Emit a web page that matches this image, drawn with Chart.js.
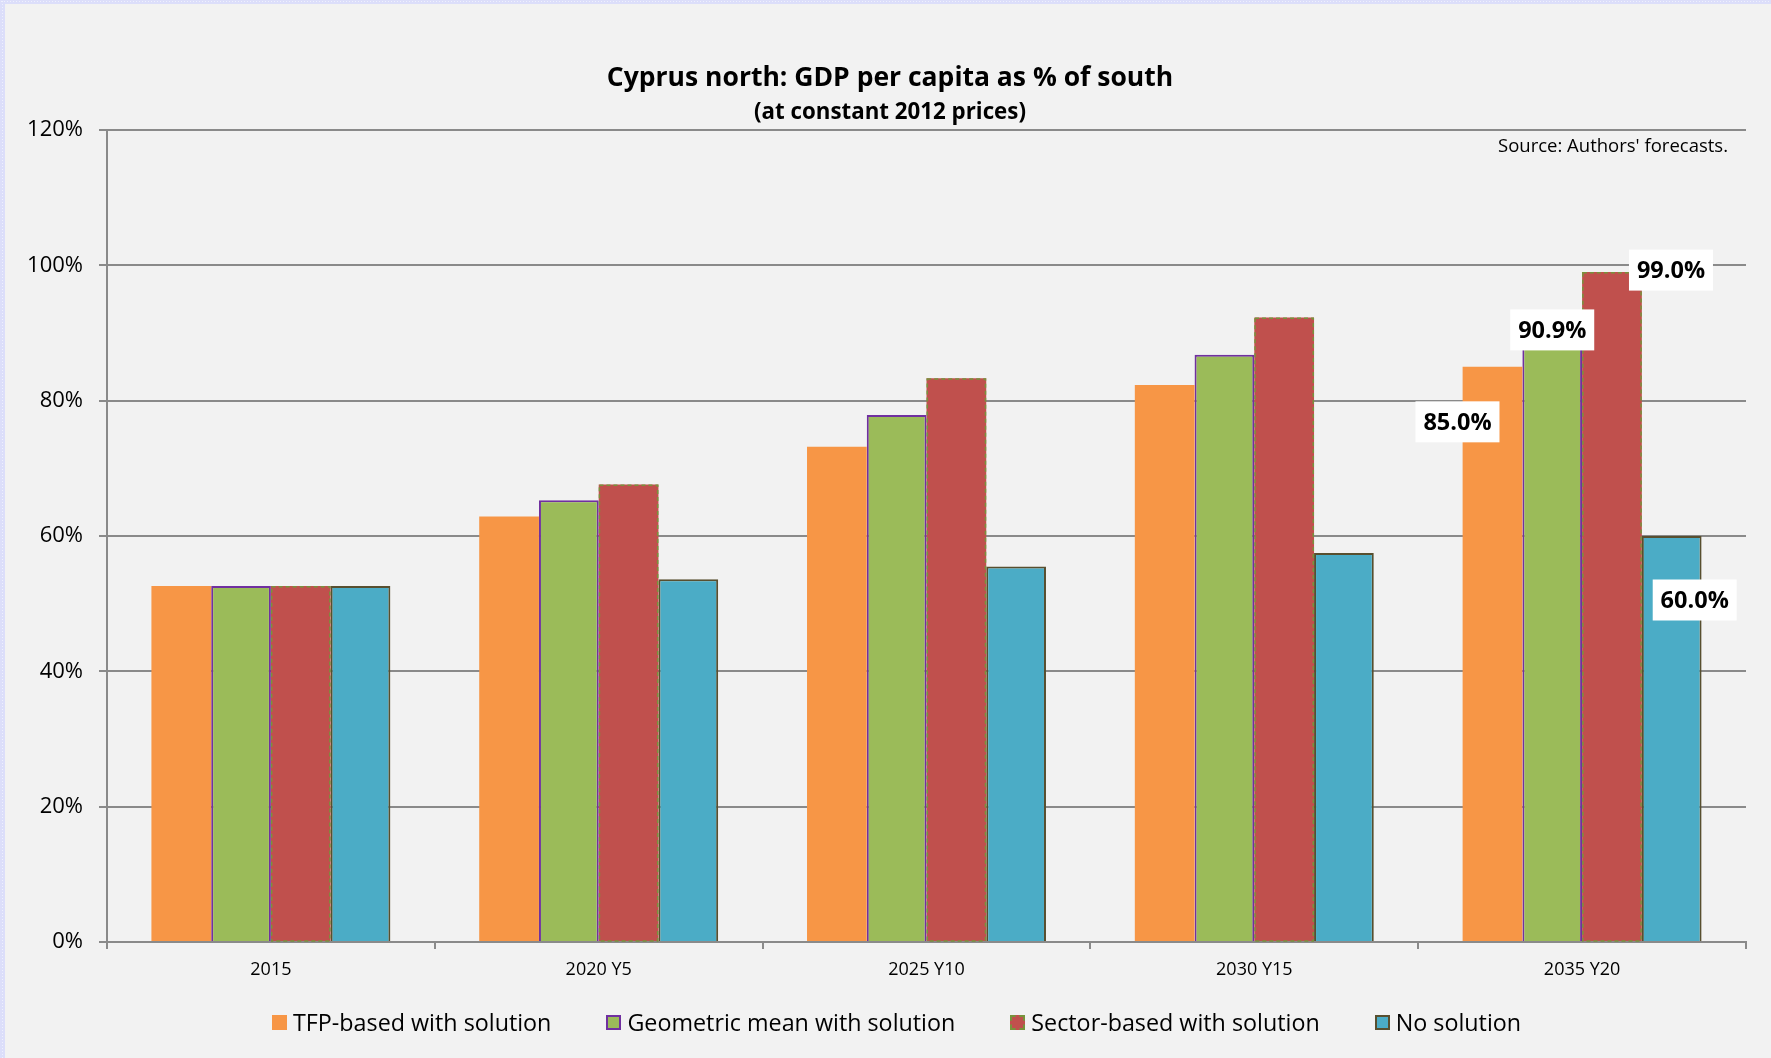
<!DOCTYPE html>
<html>
<head>
<meta charset="utf-8">
<title>Cyprus north: GDP per capita as % of south</title>
<script src="https://cdn.jsdelivr.net/npm/chart.js@4.4.1/dist/chart.umd.min.js"></script>
<style>
  html, body { margin: 0; padding: 0; background: #f2f2f2; }
  #wrap { position: relative; width: 1771px; height: 1058px; overflow: hidden; }
  #gdpChart { position: absolute; left: 0; top: 0; }
  #legend {
    position: absolute; left: 272px; top: 1008px;
    display: flex; align-items: center;
    font-family: 'Open Sans', sans-serif; font-size: 23.3px; line-height: 28px;
    color: #000; white-space: nowrap;
  }
  #legend .item { display: flex; align-items: center; margin-right: 55px; }
  #legend .swatch { width: 15px; height: 15px; box-sizing: border-box; margin-right: 6px; }
</style>
</head>
<body>
<div id="wrap">
  <canvas id="gdpChart" width="1771" height="1058"></canvas>
  <div id="legend"></div>
</div>
<script>
// GDP per capita of the north as % of the south, by scenario
const years = ['2015', '2020 Y5', '2025 Y10', '2030 Y15', '2035 Y20'];
const tfpBased = [52.6, 62.9, 73.2, 82.3, 85.0];
const geometricMean = [52.6, 65.3, 77.9, 86.8, 90.9];
const sectorBased = [52.6, 67.6, 83.3, 92.3, 99.0];
const noSolution = [52.6, 53.6, 55.5, 57.5, 60.0];
const yTicks = [0, 20, 40, 60, 80, 100, 120];

const FONT = "'Open Sans', sans-serif";
const GRID = '#8a8a8a';

// which year gets the value boxes, and where each box sits relative to its bar top
const labelledIndex = 4;
const labelOffsets = [[-35, 55], [0, 3], [59, -2], [23, 64]];

// swatch look for the html legend
const swatchStyles = [
    'background:#f79646;',
    'background:#9bbb59;border:2px solid #7030a0;',
    'background:#c0504d;border:2px dashed #77933c;',
    'background:#4bacc6;border:2px solid #584f2f;'
];

const backdrop = {
    id: 'backdrop',
    beforeDraw(chart) {
        const ctx = chart.ctx;
        ctx.save();
        ctx.fillStyle = '#f2f2f2';
        ctx.fillRect(0, 0, chart.width, chart.height);
        // lavender selection frame along the top and left edges
        ctx.fillStyle = '#dcdefa';
        ctx.fillRect(0, 0, chart.width, 4);
        ctx.fillRect(0, 0, 5, chart.height);
        ctx.fillStyle = '#eef0fd';
        for (let x = 1; x < chart.width; x += 3) ctx.fillRect(x, 1, 1, 1);
        for (let y = 1; y < chart.height; y += 3) ctx.fillRect(2, y, 1, 1);
        ctx.restore();
    }
};

const headings = {
    id: 'headings',
    afterDraw(chart) {
        const ctx = chart.ctx;
        ctx.save();
        ctx.fillStyle = '#000';
        ctx.textAlign = 'center';
        ctx.textBaseline = 'middle';
        ctx.font = `bold 26.5px ${FONT}`;
        ctx.fillText('Cyprus north: GDP per capita as % of south', 890, 78);
        ctx.font = `bold 22.3px ${FONT}`;
        ctx.fillText('(at constant 2012 prices)', 890, 113);
        ctx.textAlign = 'right';
        ctx.font = `18.5px ${FONT}`;
        ctx.fillText("Source: Authors' forecasts.", 1728, 147);
        ctx.restore();
    }
};

// bar elements can't dash their border, so stroke it here
const dashedOutline = {
    id: 'dashedOutline',
    afterDatasetsDraw(chart) {
        const ctx = chart.ctx;
        chart.data.datasets.forEach((ds, i) => {
            if (!ds.outlineDash) return;
            chart.getDatasetMeta(i).data.forEach(bar => {
                ctx.save();
                ctx.strokeStyle = ds.outlineColor;
                ctx.lineWidth = 1.5;
                ctx.setLineDash(ds.outlineDash);
                ctx.strokeRect(bar.x - bar.width / 2 + 0.75, bar.y + 0.75, bar.width - 1.5, bar.base - bar.y - 0.75);
                ctx.restore();
            });
        });
    }
};

const valueBoxes = {
    id: 'valueBoxes',
    afterDatasetsDraw(chart) {
        const ctx = chart.ctx;
        ctx.save();
        ctx.font = `bold 23.5px ${FONT}`;
        ctx.textAlign = 'center';
        ctx.textBaseline = 'middle';
        chart.data.datasets.forEach((ds, i) => {
            const bar = chart.getDatasetMeta(i).data[labelledIndex];
            const [dx, dy] = labelOffsets[i];
            const cx = bar.x + dx;
            const cy = bar.y + dy;
            ctx.fillStyle = '#fff';
            ctx.fillRect(cx - 42, cy - 20.5, 84, 41);
            ctx.fillStyle = '#000';
            ctx.fillText(ds.data[labelledIndex].toFixed(1) + '%', cx, cy + 1);
        });
        ctx.restore();
    }
};

const chart = new Chart(document.getElementById('gdpChart'), {
    type: 'bar',
    data: {
        labels: years,
        datasets: [
            {
                label: 'TFP-based with solution',
                data: tfpBased,
                backgroundColor: '#f79646',
                borderWidth: 0
            },
            {
                label: 'Geometric mean with solution',
                data: geometricMean,
                backgroundColor: '#9bbb59',
                borderColor: '#7030a0',
                borderWidth: 2
            },
            {
                label: 'Sector-based with solution',
                data: sectorBased,
                backgroundColor: '#c0504d',
                borderWidth: 0,
                outlineDash: [4, 3],
                outlineColor: '#77933c'
            },
            {
                label: 'No solution',
                data: noSolution,
                backgroundColor: '#4bacc6',
                borderColor: '#584f2f',
                borderWidth: 2
            }
        ]
    },
    options: {
        responsive: false,
        animation: false,
        categoryPercentage: 0.729,
        barPercentage: 1,
        layout: { padding: { top: 130, left: 0, right: 25, bottom: 76 } },
        plugins: {
            legend: { display: false },
            title: { display: false },
            tooltip: { enabled: false }
        },
        scales: {
            x: {
                grid: {
                    display: true,
                    drawOnChartArea: false,
                    drawTicks: true,
                    tickLength: 7,
                    color: GRID,
                    lineWidth: 2
                },
                border: { display: true, color: GRID, width: 2 },
                ticks: {
                    color: '#000',
                    padding: 10,
                    font: { family: FONT, size: 18 }
                },
                afterFit(scale) { scale.height = 40; }
            },
            y: {
                min: 0,
                max: 120,
                afterBuildTicks(scale) {
                    scale.ticks = yTicks.map(v => ({ value: v }));
                },
                grid: {
                    color: GRID,
                    lineWidth: 2,
                    drawTicks: true,
                    tickLength: 8
                },
                border: { display: true, color: GRID, width: 2 },
                ticks: {
                    color: '#000',
                    padding: 16,
                    font: { family: FONT, size: 22 },
                    callback: v => v + '%'
                },
                afterFit(scale) { scale.width = 107; }
            }
        }
    },
    plugins: [backdrop, dashedOutline, valueBoxes, headings]
});

// legend row under the axis, built from the chart's datasets
const legendEl = document.getElementById('legend');
legendEl.innerHTML = chart.data.datasets.map((ds, i) => `
    <div class="item"><span class="swatch" style="${swatchStyles[i]}"></span><span>${ds.label}</span></div>
`).join('');
</script>
</body>
</html>
